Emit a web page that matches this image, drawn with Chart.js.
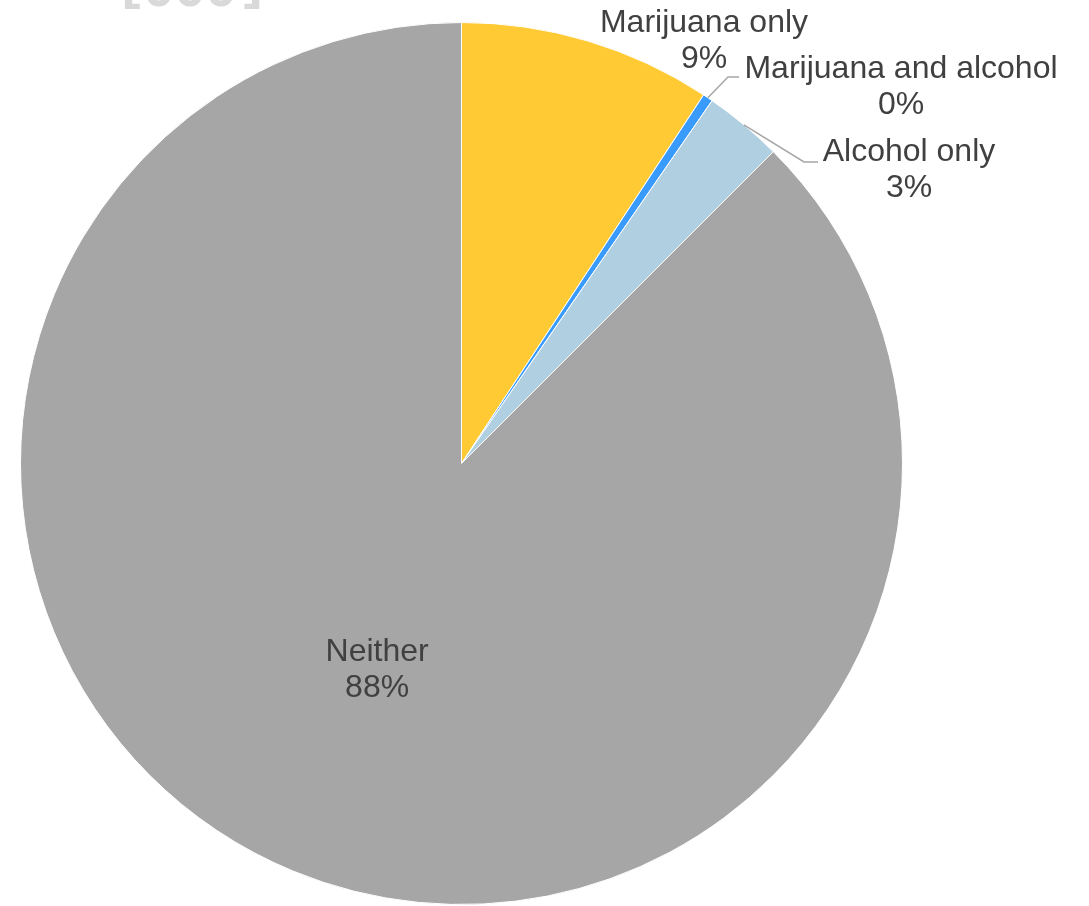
<!DOCTYPE html>
<html>
<head>
<meta charset="utf-8">
<script src="https://cdn.jsdelivr.net/npm/chart.js@4"></script>
<style>
  html, body { margin: 0; padding: 0; background: #ffffff; }
  #wrap { position: relative; width: 1089px; height: 906px; overflow: hidden; }
  canvas { display: block; }
</style>
</head>
<body>
<div id="wrap"><canvas id="c" width="1089" height="906"></canvas></div>
<script>
// ---- data ----
const categories = ['Marijuana only', 'Marijuana and alcohol', 'Alcohol only', 'Neither'];
const shares = [9.25, 0.37, 2.88, 87.5];
const titleText = '000';

// ---- styles ----
const sliceColors = ['#FFCA33', '#3A9BFF', '#B0D0E2', '#A6A6A6'];
const textColor = '#404040';
const leaderColor = '#A6A6A6';
const labelFont = '32px "Liberation Sans", Arial, sans-serif';
const lineGap = 36;

// label layout: text centre x, first baseline y; leader goes from arc mid-point to an elbow then to text
const labelLayout = [
  { cx: 704, base: 32 },
  { cx: 901, base: 78, leader: { elbowX: 728, endX: 739, y: 77 } },
  { cx: 909, base: 161, leader: { elbowX: 804, endX: 818, y: 162 } },
  { inside: 0.5, dy: 3 }
];

const labelsPlugin = {
  id: 'sliceLabels',
  afterDatasetsDraw(chart) {
    const ctx = chart.ctx;
    const meta = chart.getDatasetMeta(0);
    const total = shares.reduce((a, b) => a + b, 0);
    ctx.save();
    // cut-off title at top
    ctx.font = 'bold 56px "Liberation Sans", Arial, sans-serif';
    ctx.fillStyle = '#D9D9D9';
    ctx.textAlign = 'center';
    ctx.textBaseline = 'alphabetic';
    ctx.fillText(titleText, 190, 6);
    ctx.fillText('[', 131, -3);
    ctx.fillText(']', 253, -3);

    ctx.font = labelFont;
    ctx.fillStyle = textColor;
    meta.data.forEach((arc, i) => {
      const p = arc.getProps(['x', 'y', 'startAngle', 'endAngle', 'outerRadius'], true);
      const mid = (p.startAngle + p.endAngle) / 2;
      const pct = Math.round(shares[i] / total * 100) + '%';
      const lay = labelLayout[i];
      ctx.textAlign = 'center';
      if (lay.inside) {
        const r = p.outerRadius * lay.inside;
        const lx = p.x + Math.cos(mid) * r;
        const ly = p.y + Math.sin(mid) * r + (lay.dy || 0);
        ctx.textBaseline = 'middle';
        ctx.fillText(categories[i], lx, ly - lineGap / 2);
        ctx.fillText(pct, lx, ly + lineGap / 2);
      } else {
        ctx.textBaseline = 'alphabetic';
        ctx.fillText(categories[i], lay.cx, lay.base);
        ctx.fillText(pct, lay.cx, lay.base + lineGap);
        if (lay.leader) {
          const sx = p.x + Math.cos(mid) * p.outerRadius;
          const sy = p.y + Math.sin(mid) * p.outerRadius;
          ctx.strokeStyle = leaderColor;
          ctx.lineWidth = 1.5;
          ctx.beginPath();
          ctx.moveTo(sx, sy);
          ctx.lineTo(lay.leader.elbowX, lay.leader.y);
          ctx.lineTo(lay.leader.endX, lay.leader.y);
          ctx.stroke();
        }
      }
    });
    ctx.restore();
  }
};

new Chart(document.getElementById('c'), {
  type: 'pie',
  data: {
    labels: categories,
    datasets: [{
      data: shares,
      backgroundColor: sliceColors,
      borderColor: '#FFFFFF',
      borderWidth: 1
    }]
  },
  options: {
    responsive: false,
    animation: false,
    devicePixelRatio: 1,
    layout: { padding: { left: 20, right: 186, top: 22, bottom: 1 } },
    plugins: {
      legend: { display: false },
      tooltip: { enabled: false },
      title: { display: false }
    }
  },
  plugins: [labelsPlugin]
});
</script>
</body>
</html>
